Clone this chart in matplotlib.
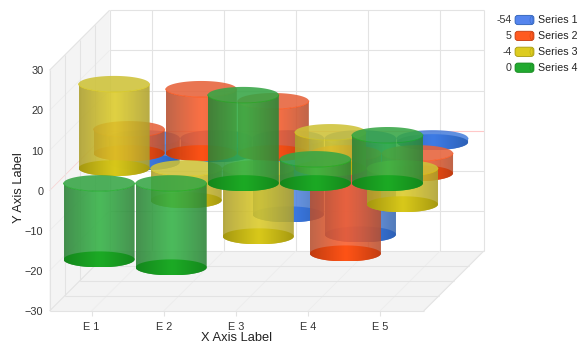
import numpy as np
import matplotlib
matplotlib.use('Agg')
import matplotlib.pyplot as plt
from matplotlib.colors import to_rgb
from matplotlib.patches import Polygon, FancyBboxPatch, Rectangle, Ellipse

plt.rcParams['font.family'] = ['Liberation Sans', 'DejaVu Sans']

# data
categories = ['E 1', 'E 2', 'E 3', 'E 4', 'E 5']
series_names = ['Series 1', 'Series 2', 'Series 3', 'Series 4']
series_1 = [-6, -4, -19, -24, -1]
series_2 = [6, 16, 13, -25, -5]
series_3 = [21, -8, -17, 9, -9]
series_4 = [-19, -21, 22, 6, 12]
y_ticks = [-30, -20, -10, 0, 10, 20, 30]

# colours: body edge, body centre, cap edge, cap centre, top
colors = [
    ('#3a68b0', '#558ae6', '#2b5fb5', '#3b7ae6', '#4a80dc'),
    ('#b65030', '#fb5c2a', '#c23a0e', '#ff5214', '#e6623a'),
    ('#ad9f2c', '#dccb28', '#a5980e', '#d8c818', '#cec238'),
    ('#2c8237', '#33b245', '#12871a', '#1aaa23', '#36a545'),
]
legend_colors = ['#5585ee', '#ff5a20', '#ddcc20', '#22aa30']

# px scale of the oblique projection
px_cat = 72.0
px_val = 240.7 / 60
depth_total = 60
radius_x = 35.5 / px_cat
radius_y = 8.0 / px_val
slots = [52.5, 37.5, 22.5, 7.5]  # depth of each series

fig = plt.figure(figsize=(5.86, 3.52), dpi=100)
ax = fig.add_axes([49.5 / 586, 41 / 352, 374.2 / 586, 240.7 / 352])
xmin, xmax = -42 / px_cat, 4 + 43.7 / px_cat
ax.set_xlim(xmin, xmax)
ax.set_ylim(-30, 30)
ax.autoscale(False)
for s in ax.spines.values():
    s.set_visible(False)
ax.patch.set_visible(False)


def proj(x, v, d):
    return x + d / px_cat, v + d / px_val


grid = '#e3e3e3'
soft = '#ececec'
dx, dy = proj(0, 0, depth_total)

# back wall, left wall and floor
ax.add_patch(Rectangle((xmin + dx, -30 + dy), xmax - xmin, 60, fc='white', ec='none', clip_on=False, zorder=1))
ax.add_patch(Polygon([(xmin, -30), (xmin + dx, -30 + dy), (xmin + dx, 30 + dy), (xmin, 30)],
                     fc='#f4f4f4', ec='none', clip_on=False, zorder=1))
ax.add_patch(Polygon([(xmin, -30), (xmax, -30), (xmax + dx, -30 + dy), (xmin + dx, -30 + dy)],
                     fc='#f3f3f3', ec='none', clip_on=False, zorder=1))


def line(xs, ys, c=grid, lw=0.8):
    ax.plot(xs, ys, color=c, lw=lw, clip_on=False, zorder=2, solid_capstyle='butt')


for v in y_ticks:
    if v in (-30, 30):
        line([xmin, xmin + dx], [v, v + dy])
    else:
        line([xmin, xmin + dx], [v, v + dy], '#f7d6d6' if v == 0 else soft, 0.6)
    line([xmin + dx, xmax + dx], [v + dy, v + dy], '#ffc8c8' if v == 0 else grid)
for i in range(len(categories)):
    line([i + dx, i + dx], [-30 + dy, 30 + dy])
    line([i, i + dx], [-30, -30 + dy], soft, 0.6)
line([xmax, xmax + dx], [-30, -30 + dy])
line([xmax + dx, xmax + dx], [-30 + dy, 30 + dy])
line([xmin + dx, xmin + dx], [-30 + dy, 30 + dy])
line([xmin, xmin], [-30, 30])
line([xmin, xmax], [-30, -30])
for d in (15, 30, 45):
    px, py = proj(0, 0, d)
    line([xmin + px, xmin + px], [-30 + py, 30 + py])
    line([xmin + px, xmax + px], [-30 + py, -30 + py])

theta = np.linspace(0, 2 * np.pi, 80)
front = np.linspace(np.pi, 2 * np.pi, 40)
z = [10]


def next_z():
    z[0] += 1
    return z[0]


def gradient(c_edge, c_mid, alpha):
    t = np.linspace(0, 1, 71)
    w = 1 - np.abs(2 * t - 1) ** 1.1
    a, b = np.array(to_rgb(c_edge)), np.array(to_rgb(c_mid))
    rgb = a[None, :] + (b - a)[None, :] * w[:, None]
    return np.dstack([rgb[None, :, :], np.full((1, 71, 1), alpha)])


def shaded(points, cx, c_edge, c_mid, alpha, vlo, vhi):
    zz = next_z()
    clip = Polygon(points, closed=True, transform=ax.transData, fc='none', ec='none')
    im = ax.imshow(gradient(c_edge, c_mid, alpha), extent=(cx - radius_x, cx + radius_x, vlo, vhi),
                   aspect='auto', interpolation='bilinear', zorder=zz)
    im.set_clip_box(fig.bbox)
    im.set_clip_path(clip)


def cylinder(i, d, value, col):
    edge, mid, cap_edge, cap_mid, top_col = col
    cx, base = proj(i, 0, d)
    v0 = base + min(0, value)
    v1 = base + max(0, value)
    # body
    low_x = cx + radius_x * np.cos(front)
    low_y = v0 + radius_y * np.sin(front)
    up_x = (cx + radius_x * np.cos(front))[::-1]
    up_y = (v1 + radius_y * np.sin(front))[::-1]
    body = np.column_stack([np.r_[low_x, up_x], np.r_[low_y, up_y]])
    shaded(body, cx, edge, mid, 0.88, v0 - radius_y, v1 + radius_y)
    # top
    top = np.column_stack([cx + radius_x * np.cos(theta), v1 + radius_y * np.sin(theta)])
    ax.add_patch(Polygon(top, fc=top_col, ec='none', alpha=0.88, clip_on=False, zorder=next_z()))
    ax.plot(cx + radius_x * np.cos(front), v1 + radius_y * np.sin(front), color=cap_mid, lw=0.6,
            alpha=0.8, clip_on=False, zorder=next_z())
    # lower cap
    cap = np.column_stack([cx + radius_x * np.cos(theta), v0 + radius_y * np.sin(theta)])
    shaded(cap, cx, cap_edge, cap_mid, 0.95, v0 - radius_y, v0 + radius_y)


all_series = [series_1, series_2, series_3, series_4]
for k, values in enumerate(all_series):
    for i, value in enumerate(values):
        cylinder(i, slots[k], value, colors[k])

ax.set_xticks(range(len(categories)), categories)
ax.set_yticks(y_ticks)
ax.tick_params(axis='x', length=3.6, width=0.8, color=grid, labelsize=7.8, labelcolor='#333333', pad=4.5)
ax.tick_params(axis='y', length=0, labelsize=7.8, labelcolor='#333333', pad=4.5)
ax.set_xlabel('X Axis Label', fontsize=9.3, color='#222222', labelpad=-0.5)
ax.set_ylabel('Y Axis Label', fontsize=9.3, color='#222222', labelpad=-0.3, y=0.512)

# legend
for k, name in enumerate(series_names):
    yc = 1 - (20 + 15.9 * k) / 352
    fig.text(511.5 / 586, yc, str(sum(all_series[k])), ha='right', va='center', fontsize=7.7, color='#333333')
    fig.text(538.5 / 586, yc, name, ha='left', va='center', fontsize=7.7, color='#222222')
    fig.add_artist(FancyBboxPatch((518 / 586, yc - 2 / 352), 13 / 586, 4 / 352,
                                  boxstyle='round,pad=0.005', mutation_aspect=586 / 352 * 0.9,
                                  fc=legend_colors[k], ec=colors[k][2], lw=0.6, transform=fig.transFigure))
    fig.add_artist(Ellipse((531.5 / 586, yc), 3 / 586, 7 / 352, fc='none', ec=colors[k][2], lw=0.4,
                           alpha=0.7, transform=fig.transFigure))

fig.savefig('out.png', dpi=100)
